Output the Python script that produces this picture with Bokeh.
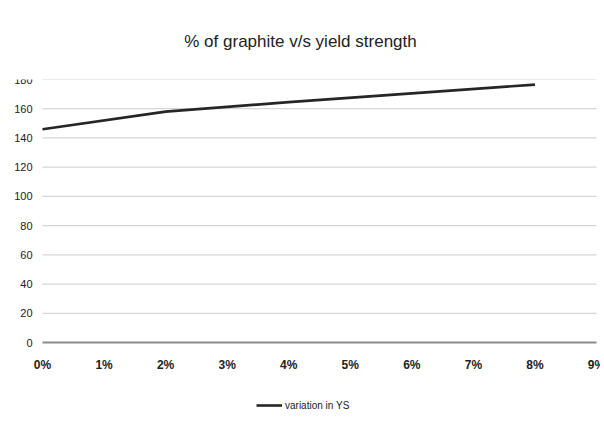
from bokeh.plotting import figure
from bokeh.embed import file_html
from bokeh.resources import INLINE
from bokeh.core.properties import value
from bokeh.models import Range1d, Legend, LegendItem, Title, ColumnDataSource

# data
graphite_pct = [0.00, 0.02, 0.04, 0.06, 0.08]
yield_strength = [146, 158, 164.5, 170.5, 176.5]
series_name = "variation in YS"
x_ticks = [0.00, 0.01, 0.02, 0.03, 0.04, 0.05, 0.06, 0.07, 0.08, 0.09]
x_tick_labels = ["0%", "1%", "2%", "3%", "4%", "5%", "6%", "7%", "8%", "9%"]
y_ticks = [0, 20, 40, 60, 80, 100, 120, 140, 160, 180]
y_tick_labels = [str(v) for v in y_ticks]
chart_title = "% of graphite v/s yield strength"

FONT = "Liberation Sans"
PX_PER_Y = 263 / 180.0           # pixels per y unit (0..180 spans 263 px)
PX_PER_X = 554 / 0.09            # pixels per x unit (0%..9% spans 554 px)
LABEL_DROP = 22 / PX_PER_Y       # x tick labels sit 22 px below the zero line
BOTTOM_PAD = 75 / PX_PER_Y       # room below the zero line for tick labels and legend
LEFT_PAD = 42 / PX_PER_X         # room left of 0% for y tick labels
RIGHT_PAD = 4 / PX_PER_X
YLAB_GAP = 10 / PX_PER_X

p = figure(frame_width=600, frame_height=338, output_backend="svg", toolbar_location=None,
           x_range=Range1d(x_ticks[0] - LEFT_PAD, x_ticks[-1] + RIGHT_PAD),
           y_range=Range1d(-BOTTOM_PAD, 180),
           min_border_left=0, min_border_right=0, min_border_top=79, min_border_bottom=0)

p.title = Title(text=chart_title, align="center", text_font=FONT, text_font_size="17px",
                text_font_style="normal", text_color="#222222", standoff=57)

p.xaxis.visible = False
p.yaxis.visible = False
p.xgrid.grid_line_color = None
p.ygrid.grid_line_color = None
p.outline_line_color = None

# horizontal gridlines (from the y ticks), spanning 0%..9%
n = len(y_ticks) - 1
p.segment(x0=[x_ticks[0]] * n, y0=y_ticks[1:], x1=[x_ticks[-1]] * n, y1=y_ticks[1:],
          line_color="#d6d6d6", line_width=1.2)
# zero baseline (category axis line)
p.segment(x0=[x_ticks[0]], y0=[y_ticks[0]], x1=[x_ticks[-1]], y1=[y_ticks[0]],
          line_color="#8c8c8c", line_width=2)

r = p.line(graphite_pct, yield_strength, line_color="#262626", line_width=2.6)

# y tick labels
ylab_src = ColumnDataSource(dict(x=[x_ticks[0] - YLAB_GAP] * len(y_ticks), y=y_ticks, t=y_tick_labels))
p.text(x="x", y="y", text="t", source=ylab_src, text_align="right", text_baseline="middle",
       text_font=value(FONT), text_font_size="11px", text_color="#222222")

# x tick labels
xlab_src = ColumnDataSource(dict(x=x_ticks, y=[y_ticks[0] - LABEL_DROP] * len(x_ticks), t=x_tick_labels))
p.text(x="x", y="y", text="t", source=xlab_src, text_align="center", text_baseline="middle",
       text_font=value(FONT), text_font_size="12px", text_font_style="bold", text_color="#222222")

legend = Legend(items=[LegendItem(label=series_name, renderers=[r])], location=(256, 2),
                orientation="horizontal", label_text_font=FONT, label_text_font_size="10px",
                label_text_color="#222222", border_line_color=None, background_fill_alpha=0,
                glyph_width=26, label_standoff=3, margin=0, padding=2)
p.add_layout(legend, "center")

open("out.html", "w").write(file_html(p, INLINE))
